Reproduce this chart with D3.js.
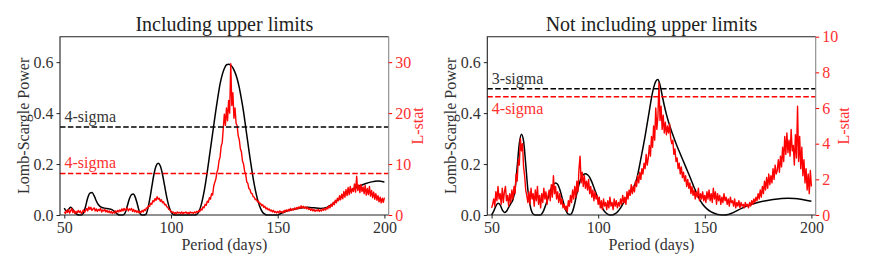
<!DOCTYPE html>
<html>
<head>
<meta charset="utf-8">
<script src="https://cdn.jsdelivr.net/npm/d3@7"></script>
<style>
  body { margin: 0; background: #fff; }
  text { font-family: "Liberation Serif", "DejaVu Serif", serif; }
</style>
</head>
<body>
<script>
// ---------- data ----------
var periodTicks = [50, 100, 150, 200];
var powerTicks = [0, 0.2, 0.4, 0.6];
var lstatTicksLeft = [0, 10, 20, 30];
var lstatTicksRight = [0, 2, 4, 6, 8, 10];

// Lomb-Scargle power, "Including upper limits"
var lsPeriodInc = [50, 51, 52, 53, 54, 55, 56, 57, 58, 59, 60, 61, 62, 63, 64, 65, 66, 67, 69, 71, 72.5, 74, 75, 76, 77.5, 78.5, 79.5, 80.5, 81.5, 82.3, 83, 84, 85, 85.8, 87, 88.3, 89, 90, 91, 92, 93, 94, 95, 96, 97, 98, 99, 100, 101, 102, 111, 112, 113, 114, 115, 116, 117, 118, 119, 120, 121, 122, 123, 124, 125, 126, 127, 128, 129, 130, 131, 132, 133, 134, 135, 136, 137, 138, 139, 140, 141, 142, 143, 144, 145, 150, 151, 153, 156, 160, 164, 167, 170, 173, 176, 179, 182, 185, 188, 191, 194, 197, 200];
var lsPowerInc = [0.027, 0.015, 0.022, 0.03, 0.022, 0.01, 0.002, 0, 0, 0.008, 0.035, 0.068, 0.086, 0.088, 0.075, 0.055, 0.04, 0.032, 0.027, 0.024, 0.02, 0.01, 0.003, 0, 0, 0.008, 0.035, 0.064, 0.08, 0.082, 0.075, 0.05, 0.018, 0.002, 0, 0.003, 0.02, 0.06, 0.11, 0.16, 0.192, 0.203, 0.192, 0.16, 0.115, 0.07, 0.035, 0.012, 0.002, 0, 0, 0.002, 0.012, 0.035, 0.07, 0.115, 0.17, 0.23, 0.29, 0.35, 0.41, 0.465, 0.515, 0.55, 0.575, 0.59, 0.592, 0.588, 0.578, 0.56, 0.535, 0.5, 0.455, 0.405, 0.345, 0.285, 0.225, 0.17, 0.12, 0.08, 0.048, 0.025, 0.01, 0.003, 0, 0, 0.004, 0.012, 0.02, 0.026, 0.03, 0.028, 0.026, 0.03, 0.045, 0.065, 0.085, 0.1, 0.113, 0.123, 0.13, 0.133, 0.13];

// Lomb-Scargle power, "Not including upper limits"
var lsPeriodExc = [50, 51, 52, 53, 54, 55, 56, 57, 58, 59, 60, 61, 62, 63, 64, 65, 66, 67, 68, 69, 70, 71, 73, 74, 75, 76, 77, 78, 79, 80, 81, 82, 83, 84, 85, 86, 87, 88, 89, 90, 91, 92, 93, 94, 95, 96, 97, 98, 99, 100, 101, 102, 103, 104, 105, 106, 107, 108, 109, 110, 111, 112, 114, 116, 118, 120, 122, 124, 125, 126, 127, 128, 129, 130, 131, 132, 133, 135, 137, 139, 141, 143, 145, 147, 149, 151, 153, 155, 157, 159, 161, 164, 167, 170, 174, 178, 182, 186, 189, 192, 195, 198, 200];
var lsPowerExc = [0, 0.015, 0.035, 0.046, 0.04, 0.02, 0.01, 0.015, 0.03, 0.045, 0.06, 0.1, 0.19, 0.28, 0.317, 0.29, 0.2, 0.1, 0.04, 0.01, 0.001, 0, 0, 0.01, 0.03, 0.055, 0.08, 0.105, 0.12, 0.126, 0.12, 0.1, 0.07, 0.04, 0.015, 0.003, 0.002, 0.015, 0.045, 0.085, 0.12, 0.145, 0.158, 0.162, 0.158, 0.148, 0.13, 0.108, 0.085, 0.063, 0.043, 0.027, 0.014, 0.006, 0.001, 0, 0.001, 0.005, 0.012, 0.022, 0.035, 0.05, 0.075, 0.1, 0.14, 0.22, 0.31, 0.41, 0.46, 0.5, 0.525, 0.532, 0.51, 0.47, 0.43, 0.395, 0.365, 0.315, 0.27, 0.23, 0.19, 0.15, 0.108, 0.07, 0.042, 0.024, 0.012, 0.005, 0.001, 0, 0.002, 0.012, 0.025, 0.036, 0.047, 0.055, 0.061, 0.065, 0.066, 0.065, 0.062, 0.057, 0.054];

// L-stat, sampled every half day from 50 to 200
var lstatPeriod = d3.range(50, 200.25, 0.5);
var lstatInc = [
  0.6, 0.3, 0.9, 0.5, 1.1, 0.4, 0.8, 1.3, 0.5, 0.9, 0.3, 0.7, 0.4, 0.9, 0.5, 0.8, 0.3, 0.6, 1.0, 0.5,
  0.9, 1.3, 0.8, 1.6, 1.1, 1.5, 0.9, 1.2, 1.4, 0.8, 1.2, 0.7, 1.1, 0.9, 1.3, 0.6, 1.0, 0.8, 1.1, 0.6,
  0.9, 0.5, 0.8, 0.4, 0.7, 0.3, 0.6, 0.4, 0.8, 0.5, 0.9, 0.6, 1.0, 0.7, 1.2, 0.8, 1.3, 0.9, 1.1, 1.4,
  0.8, 1.2, 1.0, 1.3, 0.7, 1.1, 0.6, 0.9, 0.5, 0.8, 0.4, 0.7, 0.5, 0.9, 0.6, 1.1, 0.9, 1.4, 1.3, 1.8,
  1.7, 2.3, 2.1, 2.8, 2.6, 3.2, 2.9, 3.6, 3.1, 3.3, 2.7, 3.0, 2.4, 2.6, 2.0, 2.1, 1.6, 1.5, 1.1, 1.0,
  0.7, 0.5, 0.6, 0.3, 0.5, 0.2, 0.6, 0.4, 0.5, 0.3, 0.6, 0.2, 0.5, 0.4, 0.6, 0.3, 0.5, 0.2, 0.6, 0.4,
  0.5, 0.3, 0.6, 0.4, 0.7, 0.5, 0.9, 0.7, 1.2, 1.0, 1.6, 1.4, 2.1, 1.9, 2.7, 2.5, 3.4, 3.1, 4.2, 3.9,
  5.6, 6.4, 7.0, 8.3, 9.0, 10.6, 11.4, 13.5, 14.2, 17.0, 19.8, 17.6, 21.0, 18.5, 22.5, 20.0, 29.7, 21.5, 24.0, 19.0,
  21.0, 18.0, 17.5, 15.5, 14.8, 13.0, 12.4, 10.6, 10.0, 8.6, 8.0, 6.5, 6.2, 5.2, 5.0, 4.3, 4.2, 3.6, 3.5, 3.0,
  3.1, 2.6, 2.7, 2.2, 2.3, 1.8, 2.0, 1.5, 1.7, 1.2, 1.4, 1.0, 1.2, 0.8, 1.0, 0.6, 0.9, 0.5, 0.7, 0.4,
  0.7, 0.4, 0.8, 0.5, 0.7, 0.4, 0.9, 0.6, 1.0, 0.7, 1.1, 0.8, 1.3, 0.9, 1.2, 1.0, 1.4, 1.1, 1.5, 1.2,
  1.6, 1.3, 1.8, 1.4, 1.7, 1.3, 1.6, 1.2, 1.5, 1.1, 1.3, 0.9, 1.2, 0.8, 1.1, 0.7, 1.0, 0.8, 1.1, 0.7,
  1.0, 0.8, 1.2, 0.9, 1.3, 1.0, 1.5, 1.2, 1.8, 1.4, 2.1, 1.7, 2.5, 2.0, 2.9, 2.4, 3.3, 2.8, 3.8, 3.0,
  4.1, 3.2, 4.6, 3.5, 5.0, 3.8, 5.4, 4.0, 5.6, 4.3, 5.2, 4.6, 6.1, 4.5, 7.6, 4.8, 5.9, 4.4, 6.0, 4.6,
  5.5, 4.2, 5.8, 3.9, 5.2, 4.0, 5.6, 3.7, 4.8, 3.4, 4.5, 3.1, 4.2, 2.9, 3.8, 2.6, 3.5, 2.4, 3.3, 2.5,
  3.4
];
var lstatExc = [
  0.4, 0.6, 0.9, 0.5, 1.3, 0.8, 1.6, 0.9, 1.2, 0.6, 1.5, 0.7, 1.3, 1.6, 0.8, 1.1, 0.5, 1.2, 0.7, 1.4,
  0.9, 1.6, 1.2, 2.3, 1.9, 3.1, 2.8, 4.3, 3.6, 4.0, 2.7, 2.2, 1.4, 1.1, 0.7, 1.3, 0.6, 1.5, 0.9, 1.2,
  0.5, 1.4, 0.8, 1.6, 0.6, 1.1, 0.4, 1.2, 0.7, 1.5, 0.9, 1.3, 0.6, 1.1, 1.4, 0.8, 1.7, 1.0, 2.2, 1.2,
  1.6, 0.9, 1.3, 0.7, 1.2, 0.6, 0.9, 0.4, 0.6, 0.3, 0.5, 0.2, 0.8, 0.5, 1.1, 0.7, 1.4, 0.9, 1.6, 1.0,
  1.9, 1.3, 2.6, 3.3, 1.8, 2.4, 1.6, 2.2, 1.5, 1.9, 1.4, 2.0, 1.2, 1.6, 1.0, 1.4, 0.8, 1.3, 0.9, 1.1,
  0.6, 1.0, 0.4, 0.8, 0.3, 0.9, 0.5, 0.7, 0.3, 0.8, 0.4, 1.0, 0.5, 0.7, 0.3, 0.9, 0.5, 0.8, 0.4, 0.7,
  0.5, 0.9, 0.6, 1.1, 0.7, 1.0, 0.6, 1.3, 0.9, 1.4, 1.1, 1.7, 1.2, 1.6, 1.3, 1.9, 1.6, 2.2, 1.8, 2.4,
  2.0, 2.6, 2.3, 2.9, 2.6, 3.4, 2.8, 3.2, 3.9, 3.3, 4.4, 3.8, 5.0, 4.2, 6.0, 4.8, 5.5, 7.4, 5.3, 6.1,
  4.8, 5.6, 4.6, 5.2, 4.5, 5.0, 4.6, 5.1, 4.3, 4.0, 4.2, 3.4, 3.7, 3.0, 3.2, 2.6, 2.9, 2.3, 2.7, 2.1,
  2.4, 1.9, 2.2, 1.6, 2.0, 1.5, 1.8, 1.2, 1.6, 1.1, 1.4, 0.9, 1.3, 1.0, 1.5, 0.8, 1.2, 0.9, 1.3, 0.8,
  1.1, 0.7, 1.3, 0.9, 1.4, 0.8, 1.2, 0.7, 1.5, 0.9, 1.3, 0.6, 1.2, 0.8, 1.1, 0.6, 1.0, 0.7, 1.2, 0.8,
  1.0, 0.6, 0.9, 0.5, 1.0, 0.7, 0.8, 0.5, 0.9, 0.4, 0.7, 0.5, 0.8, 0.4, 0.7, 0.5, 0.6, 0.4, 0.7, 0.5,
  0.6, 0.4, 0.7, 0.5, 0.8, 0.6, 0.9, 0.7, 1.0, 0.8, 1.2, 0.9, 1.4, 1.0, 1.6, 1.2, 1.9, 1.4, 2.1, 1.5,
  2.3, 1.7, 2.2, 1.8, 2.6, 2.0, 2.8, 2.3, 2.5, 3.1, 2.4, 3.3, 2.7, 3.8, 3.0, 4.4, 3.4, 4.6, 3.5, 4.2,
  3.3, 4.8, 3.6, 3.9, 2.8, 4.5, 3.2, 6.1, 3.0, 4.4, 2.6, 3.8, 2.2, 3.1, 1.8, 2.6, 1.4, 2.3, 1.2, 2.5,
  1.6
];

// significance thresholds
var titles = ["Including upper limits", "Not including upper limits"];
var lsThreshold = [0.345, 0.496];
var lsThresholdLabel = ["4-sigma", "3-sigma"];
var lstatThreshold = [8.15, 6.63];
var lstatThresholdLabel = ["4-sigma", "4-sigma"];
var lstatMax = [35, 10];

// ---------- drawing ----------
var W = 872, H = 273;
var ink = "#222", red = "#ff0000", redText = "#ff3030";
var plotTop = 36.7, plotBottom = 215;

var svg = d3.select("body").append("svg")
  .attr("width", W).attr("height", H);

var panels = [
  { left: 60, right: 388.7, lsT: lsPeriodInc, lsP: lsPowerInc, lst: lstatInc, rTicks: lstatTicksLeft, labelBelow: false },
  { left: 487.3, right: 815.7, lsT: lsPeriodExc, lsP: lsPowerExc, lst: lstatExc, rTicks: lstatTicksRight, labelBelow: true }
];

panels.forEach(function(p, i) {
  var g = svg.append("g");

  var x = d3.scaleLinear().domain([50, 200]).range([p.left + 4.3, p.right - 4.3]);
  var yL = d3.scaleLinear().domain([0, 0.7]).range([plotBottom, plotTop]);
  var yR = d3.scaleLinear().domain([0, lstatMax[i]]).range([plotBottom, plotTop]);

  // curves
  var lineLS = d3.line()
    .x(function(d) { return x(d[0]); })
    .y(function(d) { return yL(d[1]); })
    .curve(d3.curveMonotoneX);
  var lineLst = d3.line()
    .x(function(d) { return x(d[0]); })
    .y(function(d) { return yR(d[1]); });

  g.append("path")
    .datum(d3.zip(p.lsT, p.lsP))
    .attr("d", lineLS)
    .attr("fill", "none").attr("stroke", "#000").attr("stroke-width", 1.5);

  g.append("path")
    .datum(d3.zip(lstatPeriod, p.lst))
    .attr("d", lineLst)
    .attr("fill", "none").attr("stroke", red).attr("stroke-width", 1.4)
    .attr("stroke-linejoin", "round");

  // threshold lines
  g.append("line")
    .attr("x1", p.left).attr("x2", p.right)
    .attr("y1", yL(lsThreshold[i])).attr("y2", yL(lsThreshold[i]))
    .attr("stroke", "#000").attr("stroke-width", 1.5).attr("stroke-dasharray", "5.5,2.4");
  g.append("line")
    .attr("x1", p.left).attr("x2", p.right)
    .attr("y1", yR(lstatThreshold[i])).attr("y2", yR(lstatThreshold[i]))
    .attr("stroke", red).attr("stroke-width", 1.5).attr("stroke-dasharray", "5.5,2.4");

  g.append("text")
    .attr("x", p.left + 4.5).attr("y", yL(lsThreshold[i]) - 5)
    .attr("font-size", 16).attr("fill", "#333")
    .text(lsThresholdLabel[i]);
  g.append("text")
    .attr("x", p.left + 4.5)
    .attr("y", p.labelBelow ? yR(lstatThreshold[i]) + 17 : yR(lstatThreshold[i]) - 5)
    .attr("font-size", 16).attr("fill", redText)
    .text(lstatThresholdLabel[i]);

  // frame
  g.append("path")
    .attr("d", "M" + p.right + "," + plotTop + "H" + p.left + "V" + plotBottom + "H" + p.right)
    .attr("fill", "none").attr("stroke", ink).attr("stroke-width", 1.1);
  g.append("line")
    .attr("x1", p.right).attr("x2", p.right).attr("y1", plotTop).attr("y2", plotBottom)
    .attr("stroke", "#888").attr("stroke-width", 1.1);

  // axes
  var ax = g.append("g").attr("transform", "translate(0," + plotBottom + ")")
    .call(d3.axisBottom(x).tickValues(periodTicks).tickSize(3.5).tickPadding(3));
  var ay = g.append("g").attr("transform", "translate(" + p.left + ",0)")
    .call(d3.axisLeft(yL).tickValues(powerTicks).tickFormat(d3.format(".1f")).tickSize(3.5).tickPadding(3));
  var ar = g.append("g").attr("transform", "translate(" + p.right + ",0)")
    .call(d3.axisRight(yR).tickValues(p.rTicks).tickSize(3.5).tickPadding(3));

  [ax, ay, ar].forEach(function(a) {
    a.select(".domain").remove();
    a.attr("font-family", null).attr("font-size", null);
    a.selectAll("text").attr("font-size", 16);
  });
  ax.selectAll("line").attr("stroke", ink);
  ax.selectAll("text").attr("fill", "#333");
  ay.selectAll("line").attr("stroke", ink);
  ay.selectAll("text").attr("fill", "#333");
  ar.selectAll("line").attr("stroke", red);
  ar.selectAll("text").attr("fill", redText);

  // labels
  var cx = (p.left + p.right) / 2, cy = (plotTop + plotBottom) / 2;
  g.append("text")
    .attr("x", cx).attr("y", 31)
    .attr("text-anchor", "middle").attr("font-size", 20).attr("fill", ink)
    .text(titles[i]);
  g.append("text")
    .attr("x", cx).attr("y", 250)
    .attr("text-anchor", "middle").attr("font-size", 16).attr("fill", "#333")
    .text("Period (days)");
  g.append("text")
    .attr("transform", "translate(" + (p.left - 31) + "," + cy + ") rotate(-90)")
    .attr("text-anchor", "middle").attr("font-size", 16).attr("fill", "#333")
    .text("Lomb-Scargle Power");
  g.append("text")
    .attr("transform", "translate(" + (p.right + (i === 0 ? 34 : 33)) + "," + cy + ") rotate(-90)")
    .attr("text-anchor", "middle").attr("font-size", 16).attr("fill", redText)
    .text("L-stat");
});
</script>
</body>
</html>
